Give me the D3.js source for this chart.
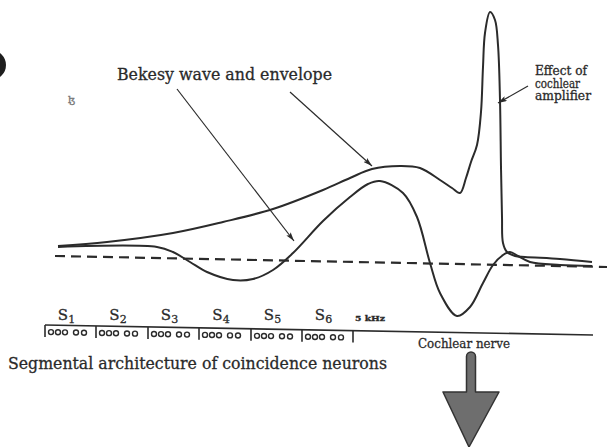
<!DOCTYPE html>
<html>
<head>
<meta charset="utf-8">
<script src="https://cdn.jsdelivr.net/npm/d3@7"></script>
<style>
  html, body { margin: 0; padding: 0; background: #fff; }
  svg { display: block; }
  text { font-family: "DejaVu Serif", "Liberation Serif", serif; fill: #2a2a2a; stroke: #2a2a2a; stroke-width: 0.3; }
</style>
</head>
<body>
<div id="chart"></div>
<script>
// sketch coordinates (design units, 616 x 447 sheet)
const envelopePts = [
    [58,246],[107,242],[173,233],[223,222],[273,209],[323,190],[350,178],[372,169],[400,166],
    [420,168],[440,180],[452,188],[460,193],[466,178],[471,162],[477,145],[481,112],[483,67],
    [485,33],[490,12],[495,20],[498,45],[500,100],[501,167],[502,217],[503,243],[507,252],
    [515,256],[525,257],[560,259],[592,262]
];
const wavePts = [
    [58,247],[157,247],[173,252],[190,262],[207,272],[233,280],[253,279],[273,270],[293,253],
    [323,221],[350,197],[368,184],[380,181],[403,193],[417,217],[430,263],[440,293],[457,316],
    [470,307],[483,283],[493,265],[503,255],[510,252],[518,256],[530,262],[560,265],[592,266]
];
const baselinePts   = [[55,256],[607,267]];
const axisPts       = [[45,325],[593,335]];
const segmentEdges  = [45, 96, 148, 199, 251, 302, 353];
const segmentLabels = ["1", "2", "3", "4", "5", "6"];
const neuronOffsets = [6, 13, 20, 31, 39];
const bekesyArrows  = [[[177,89],[294,241]], [[290,92],[372,166]]];
const ampArrow      = [[528,86],[498,103]];
const ampLabel      = ["Effect of", "cochlear", "amplifier"];
const nerveArrow    = { x: 471, top: 352, neck: 392, tip: 447, halfShaft: 4.5, halfHead: 28 };

const W = 616, H = 447;
const x = d3.scaleLinear().domain([0, 616]).range([0, W]);
const y = d3.scaleLinear().domain([0, 447]).range([0, H]);

const svg = d3.select("#chart").append("svg")
    .attr("width", W).attr("height", H);

const INK = "#2b2b2b";

svg.append("defs").append("marker")
    .attr("id", "head")
    .attr("viewBox", "0 0 10 6")
    .attr("refX", 10).attr("refY", 3)
    .attr("markerWidth", 9).attr("markerHeight", 5.4)
    .attr("markerUnits", "userSpaceOnUse")
    .attr("orient", "auto")
    .append("path")
    .attr("d", "M0,0 L10,3 L0,6 L2,3 Z")
    .attr("fill", INK);

const line = d3.line()
    .x(d => x(d[0]))
    .y(d => y(d[1]))
    .curve(d3.curveCatmullRom.alpha(0.5));

// scan blob and page mark
svg.append("circle")
    .attr("cx", x(-9)).attr("cy", y(65)).attr("r", 15)
    .attr("fill", "#1e1e1e");
svg.append("text")
    .attr("x", x(68)).attr("y", y(103))
    .style("font-size", "10px").style("fill", "#777").style("stroke", "#777")
    .text("ɮ");

// dashed resting line
svg.append("path")
    .attr("d", d3.line().x(d => x(d[0])).y(d => y(d[1]))(baselinePts))
    .attr("fill", "none")
    .attr("stroke", INK)
    .attr("stroke-width", 2.2)
    .attr("stroke-dasharray", "10,6");

// envelope and travelling wave
[envelopePts, wavePts].forEach(pts => {
    svg.append("path")
        .attr("d", line(pts))
        .attr("fill", "none")
        .attr("stroke", INK)
        .attr("stroke-width", 2)
        .attr("stroke-linejoin", "round");
});

// pointer arrows
bekesyArrows.concat([ampArrow]).forEach(a => {
    svg.append("line")
        .attr("x1", x(a[0][0])).attr("y1", y(a[0][1]))
        .attr("x2", x(a[1][0])).attr("y2", y(a[1][1]))
        .attr("stroke", INK)
        .attr("stroke-width", 1.2)
        .attr("marker-end", "url(#head)");
});

// labels
svg.append("text")
    .attr("x", x(117)).attr("y", y(80))
    .attr("textLength", 215).attr("lengthAdjust", "spacingAndGlyphs")
    .style("font-size", "16.5px")
    .text("Bekesy wave and envelope");

svg.append("g").selectAll("text")
    .data(ampLabel)
    .enter().append("text")
    .attr("x", x(535))
    .attr("y", (d, i) => y(75 + i * 12.5))
    .style("font-size", "12px")
    .attr("textLength", (d, i) => [52, 45, 56][i])
    .attr("lengthAdjust", "spacingAndGlyphs")
    .text(d => d);

// segment axis
const axisY = px => axisPts[0][1] + (px - axisPts[0][0]) * (axisPts[1][1] - axisPts[0][1]) / (axisPts[1][0] - axisPts[0][0]);

svg.append("line")
    .attr("x1", x(axisPts[0][0])).attr("y1", y(axisPts[0][1]))
    .attr("x2", x(axisPts[1][0])).attr("y2", y(axisPts[1][1]))
    .attr("stroke", INK)
    .attr("stroke-width", 1.7);

svg.append("g").selectAll("line")
    .data(segmentEdges)
    .enter().append("line")
    .attr("x1", d => x(d)).attr("x2", d => x(d))
    .attr("y1", d => y(axisY(d)))
    .attr("y2", d => y(axisY(d) + 12))
    .attr("stroke", INK)
    .attr("stroke-width", 1.6);

const neurons = [];
segmentEdges.slice(0, -1).forEach(s => neuronOffsets.forEach(o => neurons.push(s + o)));
svg.append("g").selectAll("circle")
    .data(neurons)
    .enter().append("circle")
    .attr("cx", d => x(d))
    .attr("cy", d => y(axisY(d) + 7))
    .attr("r", 2.5)
    .attr("fill", "none")
    .attr("stroke", INK)
    .attr("stroke-width", 1.4);

const segLab = svg.append("g").selectAll("text")
    .data(segmentLabels)
    .enter().append("text")
    .attr("x", (d, i) => x((segmentEdges[i] + segmentEdges[i + 1]) / 2 - 4))
    .attr("y", y(320))
    .attr("text-anchor", "middle")
    .style("font-size", "15px");
segLab.append("tspan").text("S");
segLab.append("tspan").attr("dy", 3).style("font-size", "11px").text(d => d);

svg.append("text")
    .attr("x", x(355)).attr("y", y(321))
    .attr("textLength", 30).attr("lengthAdjust", "spacingAndGlyphs")
    .style("font-size", "8px").style("font-weight", "bold")
    .text("5 kHz");

svg.append("text")
    .attr("x", x(418)).attr("y", y(348))
    .attr("textLength", 92).attr("lengthAdjust", "spacingAndGlyphs")
    .style("font-size", "13px")
    .text("Cochlear nerve");

svg.append("text")
    .attr("x", x(8)).attr("y", y(369))
    .attr("textLength", 379).attr("lengthAdjust", "spacingAndGlyphs")
    .style("font-size", "17px")
    .text("Segmental architecture of coincidence neurons");

// output arrow
const A = nerveArrow;
const arrowPath = d3.path();
arrowPath.moveTo(x(A.x - A.halfShaft), y(A.neck));
arrowPath.lineTo(x(A.x - A.halfShaft), y(A.top + A.halfShaft));
arrowPath.arc(x(A.x), y(A.top + A.halfShaft), A.halfShaft, Math.PI, 0);
arrowPath.lineTo(x(A.x + A.halfShaft), y(A.neck));
arrowPath.lineTo(x(A.x + A.halfHead), y(A.neck));
arrowPath.lineTo(x(A.x - 2), y(A.tip));
arrowPath.lineTo(x(A.x - A.halfHead), y(A.neck));
arrowPath.closePath();
svg.append("path")
    .attr("d", arrowPath.toString())
    .attr("fill", "#6e6e6e")
    .attr("stroke", "#333")
    .attr("stroke-width", 1.5)
    .attr("stroke-linejoin", "round");
</script>
</body>
</html>
